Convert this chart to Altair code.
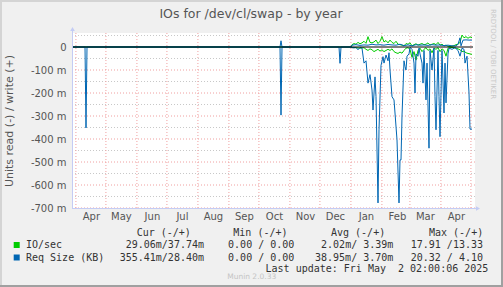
import altair as alt
import pandas as pd

# ---------------- data (values in milli-units, days after 2024-03-28 02:00 UTC) ----------------
req_read_days = [0, 13, 14, 15, 208, 209, 210, 267, 268, 269, 279, 280, 282, 284, 286, 288, 290, 292, 294,
                 296, 298, 300, 301, 303, 304, 306, 307, 309, 311, 312, 314, 316, 317, 318, 320, 322, 323,
                 325, 327, 328, 329, 330, 332, 333, 334, 335, 337, 338, 339, 340, 342, 343, 344, 346, 347,
                 348, 350, 351, 352, 354, 355, 357, 358, 360, 362, 363, 364, 366, 367, 368, 370, 372, 373,
                 374, 376, 377, 380, 383, 386, 388, 390, 392, 393, 395, 397, 398, 400]
req_read_vals = [0, 0, -352, 0, 0, -296, 0, 0, -71, 0, 0, -3, -4, -2, -12, -2, -5, -70, -60,
                 -157, -120, -187, -274, -130, -216, -678, -360, -80, -42, -70, -35, -60, -25, -100, -216, -230, -287,
                 -404, -678, -491, -491, -300, -60, -85, -100, -40, -30, -2, -5, -10, -70, -200, -30, -40, -5,
                 -30, -70, -157, -15, -230, -70, -440, -15, -100, -5, -216, -360, -15, -216, -390, -15, -287, -70,
                 -243, -30, -5, -10, -3, -15, -40, -5, -10, -70, -40, -200, -357, -357]

req_write_days = [0, 208, 209, 210, 279, 280, 284, 288, 292, 296, 300, 304, 308, 312, 316, 320, 324, 328,
                  332, 336, 340, 344, 348, 352, 356, 360, 364, 368, 372, 376, 380, 384, 386, 388, 389, 391, 394, 397, 400]
req_write_vals = [0, 0, 27, 0, 0, 8, 10, 7, 9, 8, 12, 9, 10, 8, 11, 9, 8, 12,
                  6, 9, 5, 10, 8, 9, 7, 10, 8, 9, 6, 8, 5, 5, 12, 40, 5, 30, 31, 30, 30]

io_write_days = [0, 279, 280, 282, 284, 286, 288, 290, 292, 294, 296, 298, 300, 302, 304, 306, 308, 310, 312,
                 314, 316, 318, 320, 322, 324, 326, 328, 330, 332, 334, 336, 338, 340, 342, 344, 346, 348, 350,
                 352, 354, 356, 358, 360, 362, 364, 366, 368, 370, 372, 374, 376, 378, 380, 382, 384, 386, 388,
                 390, 392, 394, 396, 398, 400]
io_write_vals = [0, 0, 10, 15, 12, 20, 14, 18, 25, 16, 45, 20, 18, 22, 30, 15, 25, 45, 22,
                 28, 18, 30, 20, 15, 25, 12, 10, 8, 5, 15, 12, 18, 5, 10, 14, 8, 12, 15,
                 10, 12, 18, 9, 12, 15, 10, 20, 8, 12, 5, 8, 3, 2, 4, 6, 10, 12, 20,
                 52, 40, 45, 38, 44, 40]

io_read_days = io_write_days
io_read_vals = [0, 0, -2, -2, -3, -4, -5, -4, -3, -10, -15, -8, -12, -20, -15, -10, -18, -12, -20,
                -15, -10, -15, -8, -20, -25, -28, -22, -27, -15, -5, -3, -10, -45, -20, -57, -15, -5, -20,
                -10, -3, -15, -8, -25, -5, -10, -3, -20, -8, -15, -40, -5, -3, -2, -3, -5, -8, -12,
                -20, -18, -25, -28, -30, -32]

month_starts = ["2024-04-01", "2024-05-01", "2024-06-01", "2024-07-01", "2024-08-01", "2024-09-01",
                "2024-10-01", "2024-11-01", "2024-12-01", "2025-01-01", "2025-02-01", "2025-03-01",
                "2025-04-01", "2025-05-01"]
month_labels_at = ["2024-04-16", "2024-05-16", "2024-06-16", "2024-07-16", "2024-08-16", "2024-09-16",
                   "2024-10-16", "2024-11-16", "2024-12-16", "2025-01-16", "2025-02-16", "2025-03-16",
                   "2025-04-16"]
y_ticks = [-700, -600, -500, -400, -300, -200, -100, 0]
y_minor = [-650, -550, -450, -350, -250, -150, -50, 50]

title_text = "IOs for /dev/cl/swap - by year"
y_title = "Units read (-) / write (+)"
headers = ["Cur (-/+)", "Min (-/+)", "Avg (-/+)", "Max (-/+)"]
series_names = ["IO/sec", "Req Size (KB)"]
io_stats = ["29.06m/37.74m", "0.00 / 0.00", "2.02m/ 3.39m", "17.91 /13.33"]
req_stats = ["355.41m/28.40m", "0.00 / 0.00", "38.95m/ 3.70m", "20.32 / 4.10"]
last_update = "Last update: Fri May\u00a0\u00a02 02:00:06 2025"
watermark = "Munin 2.0.33"
side_text = "RRDTOOL / TOBI OETIKER"

# ---------------- helpers ----------------
START = pd.Timestamp("2024-03-28 02:00:00", tz="UTC")
W, H = 403, 175
GREEN, BLUE = "#00CC00", "#0066B3"
AXIS_C = "#C4CCF4"


def ms(ts):
    return int(pd.Timestamp(ts).value // 1_000_000)


def utc(s):
    return ms(pd.Timestamp(s, tz="UTC"))


def series(days, vals):
    return pd.DataFrame({"t": [ms(START + pd.Timedelta(days=d)) for d in days], "v": vals})


X_SCALE = alt.Scale(type="utc", domain=[ms(START), ms(START + pd.Timedelta(days=W))])
Y_SCALE = alt.Scale(domain=[-700, 14 * 700 / 161], nice=False, zero=False)
X_AXIS = alt.Axis(
    values=[utc(m) for m in month_labels_at], title=None, grid=False, ticks=False, domain=False,
    labelExpr="utcFormat(datum.value, '%b')", labelFont="DejaVu Sans", labelFontSize=10,
    labelColor="#555555", labelPadding=3, labelFlush=False, labelOverlap=False)
Y_AXIS = alt.Axis(
    values=y_ticks, title=None, grid=False, ticks=False, domain=False,
    labelExpr="datum.value == 0 ? '0\u00a0\u00a0' : datum.value + ' m'",
    labelFont="DejaVu Sans", labelFontSize=10, labelColor="#555555", labelPadding=6)
dummy = alt.Data(values=[{"a": 1}])


def X(field="t"):
    return alt.X(f"{field}:T", scale=X_SCALE, axis=X_AXIS, title=None)


def Y(field="v"):
    return alt.Y(f"{field}:Q", scale=Y_SCALE, axis=Y_AXIS, title=None)


def line(df, color):
    return alt.Chart(df).mark_line(color=color, strokeWidth=1, clip=True).encode(x=X(), y=Y())


def txt(s, x, y, size=10, color="#333333", font="DejaVu Sans Mono", align="left", angle=0):
    return alt.Chart(dummy).mark_text(text=s, fontSize=size, color=color, font=font, align=align,
                                      baseline="middle", angle=angle).encode(x=alt.value(x), y=alt.value(y))


# ---------------- grid ----------------
minor_grid = alt.Chart(pd.DataFrame({"v": y_minor})).mark_rule(
    color="#C8C8C8", strokeWidth=1, strokeDash=[1, 2]).encode(y=Y())

major_grid = alt.Chart(pd.DataFrame({"v": y_ticks[:-1]})).mark_rule(
    color="#F0A0A0", strokeWidth=1, strokeDash=[1, 2]).encode(y=Y())

v_grid = alt.Chart(pd.DataFrame({"t": [utc(m) for m in month_starts]})).mark_rule(
    color="#F0A0A0", strokeWidth=1, strokeDash=[1, 2]).encode(x=X())

y_axis_line = alt.Chart(dummy).mark_rule(color=AXIS_C, strokeWidth=1).encode(
    x=alt.value(0.5), y=alt.value(-5), y2=alt.value(H))
x_axis_line = alt.Chart(dummy).mark_rule(color=AXIS_C, strokeWidth=1).encode(
    x=alt.value(0), x2=alt.value(W + 3), y=alt.value(H + 0.5))
arrow_up = alt.Chart(dummy).mark_point(shape="triangle-up", filled=True, size=22, color=AXIS_C, opacity=1).encode(
    x=alt.value(0.5), y=alt.value(-4))
arrow_right = alt.Chart(dummy).mark_point(shape="triangle-right", filled=True, size=22, color=AXIS_C, opacity=1).encode(
    x=alt.value(W + 3), y=alt.value(H + 0.5))

zero_line = alt.Chart(pd.DataFrame({"v": [0]})).mark_rule(color="#000000", strokeWidth=1).encode(
    y=Y(), x=alt.value(0), x2=alt.value(401))

# ---------------- texts ----------------
texts = [
    txt(title_text, 179, -19, size=12.5, color="#555555", font="DejaVu Sans", align="center"),
    txt(y_title, -62, 88, size=11, color="#555555", font="DejaVu Sans", align="center", angle=270),
    txt(headers[0], 64.7, 200), txt(headers[1], 161.3, 200), txt(headers[2], 259, 200), txt(headers[3], 357, 200),
    txt(series_names[0], -46, 212), txt(series_names[1], -46, 224.5),
    txt(io_stats[0], 132, 212, align="right"), txt(io_stats[1], 222.3, 212, align="right"),
    txt(io_stats[2], 321.3, 212, align="right"), txt(io_stats[3], 411, 212, align="right"),
    txt(req_stats[0], 132, 224.5, align="right"), txt(req_stats[1], 222.3, 224.5, align="right"),
    txt(req_stats[2], 321.3, 224.5, align="right"), txt(req_stats[3], 411, 224.5, align="right"),
    txt(last_update, 416.3, 236, align="right"),
    txt(watermark, 179.7, 243.7, size=7.5, color="#C4C4C4", font="DejaVu Sans", align="center"),
    txt(side_text, 421.3, 21, size=7, color="#C8C8C8", font="DejaVu Sans", align="center", angle=90),
]
sq_green = alt.Chart(dummy).mark_square(size=36, color=GREEN, opacity=1).encode(x=alt.value(-55.3), y=alt.value(212))
sq_blue = alt.Chart(dummy).mark_square(size=36, color=BLUE, opacity=1).encode(x=alt.value(-55.3), y=alt.value(224.5))

border_r = alt.Chart(dummy).mark_rule(color="#A0A0A0", strokeWidth=2).encode(
    x=alt.value(430), y=alt.value(-33), y2=alt.value(254))
border_b = alt.Chart(dummy).mark_rule(color="#A0A0A0", strokeWidth=2).encode(
    x=alt.value(-72), x2=alt.value(431), y=alt.value(253))
border_l = alt.Chart(dummy).mark_rule(color="#D4D4D4", strokeWidth=2).encode(
    x=alt.value(-71), y=alt.value(-33), y2=alt.value(252))
border_t = alt.Chart(dummy).mark_rule(color="#D4D4D4", strokeWidth=2).encode(
    x=alt.value(-72), x2=alt.value(429), y=alt.value(-32))

chart = alt.layer(
    minor_grid, major_grid, v_grid,
    line(series(io_read_days, io_read_vals), GREEN),
    line(series(io_write_days, io_write_vals), GREEN),
    line(series(req_read_days, req_read_vals), BLUE),
    line(series(req_write_days, req_write_vals), BLUE),
    zero_line, y_axis_line, x_axis_line, arrow_up, arrow_right,
    *texts, sq_green, sq_blue, border_r, border_b, border_l, border_t,
).properties(
    width=W, height=H,
    autosize=alt.AutoSizeParams(type="none"),
    padding={"left": 72, "top": 33, "right": 28, "bottom": 79},
    background="#F0F0F0",
).configure_view(fill="#FFFFFF", stroke=None)

chart.save("out.html", embed_options={"renderer": "svg", "actions": False})
